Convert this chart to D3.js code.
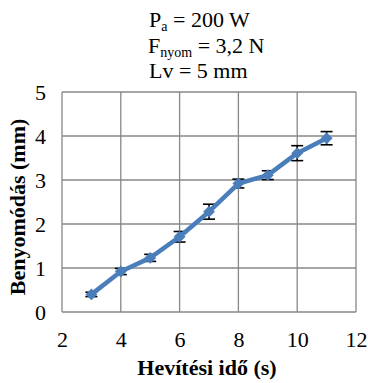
<!DOCTYPE html>
<html>
<head>
<meta charset="utf-8">
<script src="https://cdn.jsdelivr.net/npm/d3@7"></script>
<style>
  html, body { margin: 0; padding: 0; background: #fff; }
  svg { display: block; }
</style>
</head>
<body>
<svg id="chart" width="368" height="383"></svg>
<script>
// Heating time (s) vs. indentation depth (mm), with error bars
const times = [3, 4, 5, 6, 7, 8, 9, 10, 11];
const depths = [0.40, 0.92, 1.23, 1.71, 2.28, 2.92, 3.11, 3.61, 3.95];
const errors = [0.05, 0.07, 0.08, 0.12, 0.17, 0.10, 0.10, 0.17, 0.15];
const xTicks = [2, 4, 6, 8, 10, 12];
const yTicks = [0, 1, 2, 3, 4, 5];

const FONT = '"Liberation Serif"';
const svg = d3.select("#chart");
const plot = { left: 62, right: 356, top: 92, bottom: 312 };

const x = d3.scaleLinear().domain([2, 12]).range([plot.left, plot.right]);
const y = d3.scaleLinear().domain([0, 5]).range([plot.bottom, plot.top]);

const gridColor = "#878787";
const lineColor = "#4a7ebb";

// Gridlines
const grid = svg.append("g");
grid.selectAll("line.v").data(xTicks).join("line")
  .attr("x1", d => x(d)).attr("x2", d => x(d))
  .attr("y1", plot.top).attr("y2", plot.bottom)
  .attr("stroke", gridColor).attr("stroke-width", 1.3);
grid.selectAll("line.h").data(yTicks).join("line")
  .attr("x1", plot.left).attr("x2", plot.right)
  .attr("y1", d => y(d)).attr("y2", d => y(d))
  .attr("stroke", gridColor).attr("stroke-width", 1.3);

// Axes (tick labels only)
const xAxis = svg.append("g")
  .attr("transform", `translate(0,${plot.bottom})`)
  .call(d3.axisBottom(x).tickValues(xTicks).tickFormat(d3.format("d")).tickSize(0));
xAxis.select(".domain").remove();
xAxis.selectAll("text")
  .attr("y", 35).attr("dy", null)
  .style("font-family", FONT).style("font-size", "22px").attr("fill", "#000");

const yAxis = svg.append("g")
  .attr("transform", `translate(${plot.left},0)`)
  .call(d3.axisLeft(y).tickValues(yTicks).tickFormat(d3.format("d")).tickSize(0).tickPadding(16));
yAxis.select(".domain").remove();
yAxis.selectAll("text")
  .attr("dy", "0.34em")
  .style("font-family", FONT).style("font-size", "22px").attr("fill", "#000");

// Error bars
const cap = 6;
const eb = svg.append("g").attr("stroke", "#000").attr("stroke-width", 1.6);
times.forEach((t, i) => {
  const cx = x(t), y0 = y(depths[i] - errors[i]), y1 = y(depths[i] + errors[i]);
  eb.append("line").attr("x1", cx).attr("x2", cx).attr("y1", y0).attr("y2", y1);
  eb.append("line").attr("x1", cx - cap).attr("x2", cx + cap).attr("y1", y0).attr("y2", y0);
  eb.append("line").attr("x1", cx - cap).attr("x2", cx + cap).attr("y1", y1).attr("y2", y1);
});

// Series line
const pts = times.map((t, i) => [t, depths[i]]);
svg.append("path")
  .datum(pts)
  .attr("fill", "none")
  .attr("stroke", lineColor)
  .attr("stroke-width", 4.5)
  .attr("stroke-linejoin", "round")
  .attr("d", d3.line().x(d => x(d[0])).y(d => y(d[1])));

// Diamond markers
svg.append("g").selectAll("path").data(pts).join("path")
  .attr("transform", d => `translate(${x(d[0])},${y(d[1])})`)
  .attr("d", d3.symbol().type(d3.symbolDiamond2).size(90))
  .attr("fill", lineColor);

// Axis titles
svg.append("text")
  .attr("x", 207).attr("y", 375)
  .attr("text-anchor", "middle")
  .style("font-family", FONT)
  .style("font-size", "22px").style("font-weight", "bold")
  .text("Hevítési idő (s)");

svg.append("text")
  .attr("transform", "translate(25,207) rotate(-90)")
  .attr("text-anchor", "middle")
  .style("font-family", FONT)
  .style("font-size", "22px").style("font-weight", "bold")
  .text("Benyomódás (mm)");

// Parameter block
const params = svg.append("g").style("font-family", FONT).style("font-size", "22px");
const t1 = params.append("text").attr("x", 149).attr("y", 27);
t1.append("tspan").text("P");
t1.append("tspan").attr("dy", 4).style("font-size", "14px").text("a");
t1.append("tspan").attr("dy", -4).text(" = 200 W");

const t2 = params.append("text").attr("x", 148).attr("y", 52.5);
t2.append("tspan").text("F");
t2.append("tspan").attr("dy", 4).style("font-size", "14px").text("nyom");
t2.append("tspan").attr("dy", -4).text(" = 3,2 N");

params.append("text").attr("x", 149).attr("y", 78).text("Lv = 5 mm");
</script>
</body>
</html>
